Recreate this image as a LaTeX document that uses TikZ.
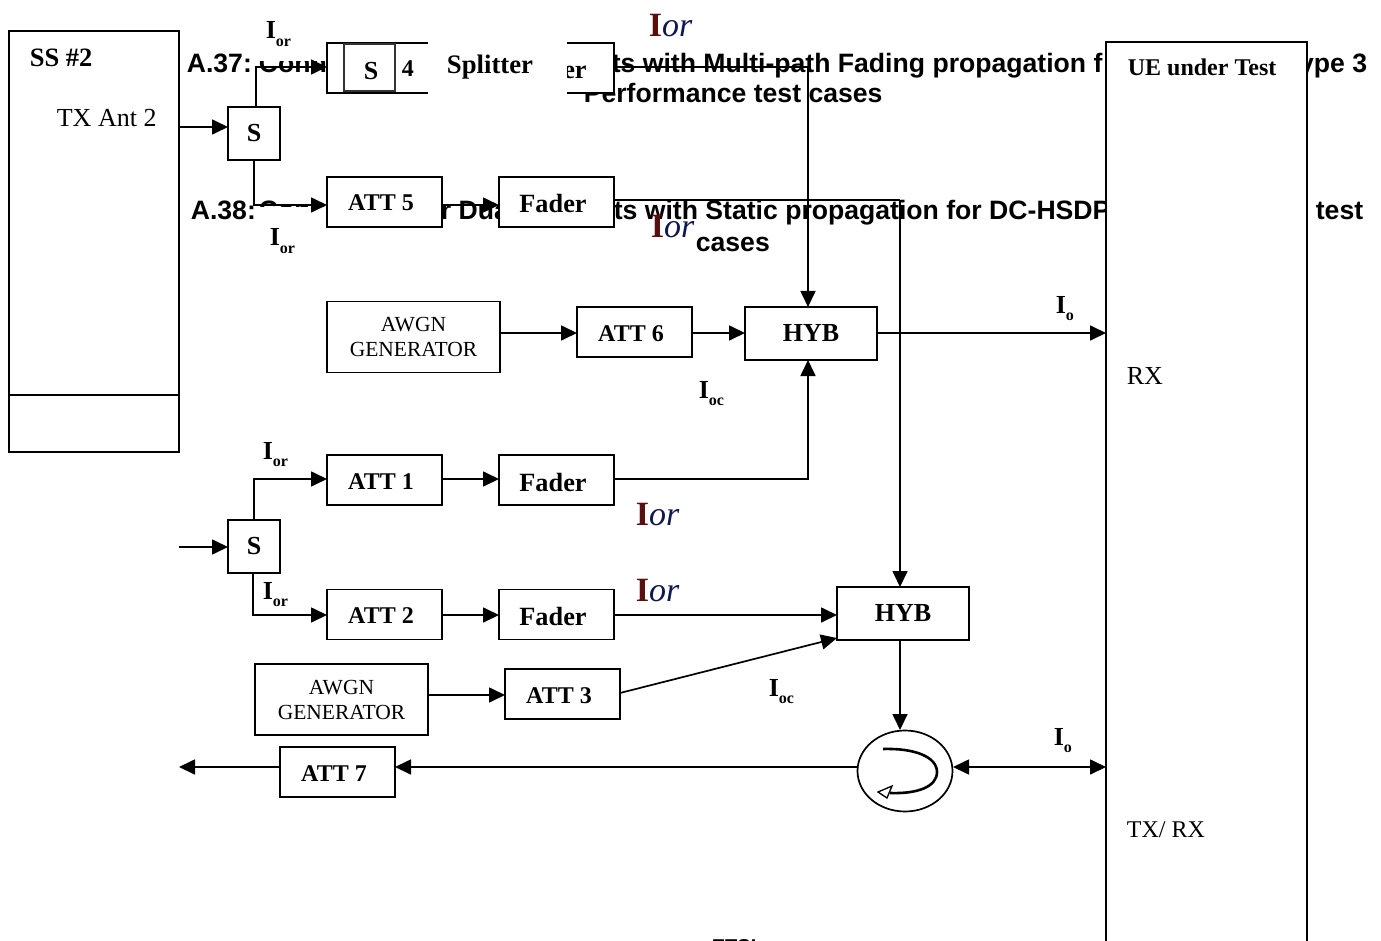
\documentclass[tikz,border=0pt]{standalone}
\usepackage{fontspec}
\setmainfont{Liberation Serif}
\newfontfamily\headfont{Liberation Sans}
\usetikzlibrary{shapes.geometric, arrows.meta, positioning, calc}

\definecolor{iorred}{RGB}{90,15,15}
\definecolor{iorblue}{RGB}{15,25,80}
\newcommand{\sublabel}[2]{\textbf{#1}\raisebox{-0.28em}{\fontsize{16}{16}\selectfont\textbf{#2}}}

\begin{document}
\begin{tikzpicture}[
        x=1pt, y=-1pt,
        node distance=57pt,
        line width=1.7pt,
        boxbase/.style={rectangle, draw, fill=white, outer sep=0pt, inner sep=0pt},
        block/.style={boxbase, minimum width=115pt, minimum height=50pt, text height=18pt, text depth=0pt, execute at end node={\hspace{7pt}}, font=\fontsize{24}{26}\selectfont\bfseries},
        fader/.style={block, text height=22pt, font=\fontsize{26.3}{28}\selectfont\bfseries},
        split/.style={boxbase, minimum width=52pt, minimum height=53pt, font=\fontsize{26}{28}\selectfont\bfseries},
        hyb/.style={boxbase, minimum width=132pt, minimum height=53pt, font=\fontsize{26}{28}\selectfont\bfseries},
        noise/.style={boxbase, minimum width=173pt, minimum height=71pt, align=center, font=\fontsize{21.5}{25}\selectfont},
        head/.style={anchor=base west, inner sep=0pt, font=\headfont\fontsize{26.6}{30}\selectfont\bfseries},
        plain/.style={anchor=base west, inner sep=0pt, font=\fontsize{26}{28}\selectfont},
        sig/.style={anchor=base west, inner sep=0pt, font=\fontsize{26}{28}\selectfont},
        ior/.style={anchor=base west, inner sep=0pt, font=\fontsize{34}{36}\selectfont},
        wire/.style={-{Triangle[length=16pt,width=15pt]}, line width=1.7pt}
    ]
    \useasboundingbox (0,0) rectangle (1381,941);
    \fill[white] (0,0) rectangle (1381,941);

    % Headings behind the blocks
    \node[head] (hAa) at (186,73) {A.37:};
    \node[head] (hAb) at (258,73) {Conn};
    \node[head] (hAc) at (611,73) {ts with Multi-path Fading propagation f};
    \node[head, anchor=base east] (hAd) at (1368,73) {ype 3};
    \node[head] (hAe) at (583,103) {Performance test cases};
    \node[head] (hBa) at (190,220) {A.38:};
    \node[head] (hBb) at (258,220) {Conn};
    \node[head] (hBc) at (440,220) {r Dua};
    \node[head] (hBd) at (613,220) {ts with Static propagation for DC-HSDP};
    \node[head, anchor=base east] (hBe) at (1364,220) {test};
    \node[head] (hBf) at (695,252) {cases};
    \node[head, font=\headfont\fontsize{20}{22}\selectfont\bfseries] (hC) at (711,953) {ETSI};
    \fill[white] (257,15) rectangle (327,61);
    \fill[white] (257,207) rectangle (327,252);

    % Outer boxes
    \node[boxbase, anchor=north west, minimum width=170pt, minimum height=421pt] (ss) at (9,31) {};
    \draw (ss.west |- 0,395) -- (ss.east |- 0,395);
    \node[boxbase, anchor=north west, minimum width=201pt, minimum height=930pt] (ue) at (1106,42) {};

    % Upper branch
    \node[split] (sA) at (254,133.5) {S};
    \node[block] (attD) at (384.5,68) {ATT 4};
    \node[fader, right=of attD] (fadD) {Fader};
    \fill[white] (428,40) rectangle (567,96);
    \node[split, draw=black!80, line width=1.3pt, minimum width=51pt, minimum height=47pt, text height=24.5pt, text depth=0pt] (sD) at (369.5,67.5) {\hspace{3pt}S};
    \node[inner sep=0pt, font=\fontsize{26.7}{28}\selectfont\bfseries] (splt) at (490,67) {Splitter};
    \node[block] (attE) at (384.5,202) {ATT 5};
    \node[fader, right=of attE] (fadE) {Fader};
    \node[noise] (awgnA) at (413.5,337) {AWGN\\GENERATOR};
    \node[block, right=77pt of awgnA, yshift=5pt] (attF) {ATT 6};
    \node[hyb] (hybA) at (811,333.5) {HYB};

    % Lower branch
    \node[block] (attA) at (384.5,480) {ATT 1};
    \node[fader, right=of attA] (fadA) {Fader};
    \node[split] (sB) at (254,546.5) {S};
    \node[block] (attB) at (384.5,614.5) {ATT 2};
    \node[fader, right=of attB] (fadB) {Fader};
    \node[hyb] (hybB) at (903,613.5) {HYB};
    \node[noise] (awgnB) at (341.5,699.5) {AWGN\\GENERATOR};
    \node[block, right=77pt of awgnB, yshift=5.5pt] (attC) {ATT 3};
    \node[block] (attG) at (337.5,772) {ATT 7};
    \node[ellipse, draw, fill=white, outer sep=0pt, inner sep=0pt, minimum width=95pt, minimum height=81pt] (circ) at (905,771) {};
    \draw[line width=2.6pt] (883,749) .. controls (915,748) and (937,757) .. (937,772) .. controls (937,787) and (917,794) .. (890,793);
    \draw[line width=1.3pt, fill=white] (878,792) -- (892,786) -- (887,798) -- cycle;

    % Free ends of the connectors
    \coordinate (inA) at (179,127);
    \coordinate (inB) at (179,547);
    \coordinate (outC) at (179,767);
    \coordinate (ueA) at (1106,333);
    \coordinate (ueB) at (1106,767);
    \coordinate (circL) at (858,767);
    \coordinate (circR) at (953,767);
    \coordinate (sAa) at (256,107);
    \coordinate (sAb) at (254,160);
    \coordinate (sBb) at (253,573);
    \coordinate (bendD) at (808,67);
    \coordinate (bendE) at (900,200);
    \coordinate (fadDo) at (614,67);
    \coordinate (fadEo) at (614,200);
    \coordinate (hybAt) at (808,307);
    \coordinate (hybAb) at (808,360);
    \coordinate (hybBt) at (900,587);
    \coordinate (hybBb) at (900,640);
    \coordinate (circT) at (900,730);
    \coordinate (hybBc) at (837,638);
    \coordinate (attCo) at (620,693);

    % Connectors
    \draw[wire] (inA) -- (sA.west |- inA);
    \draw[wire] (sAa) |- (attD.west |- 0,67);
    \draw[wire] (sAb) |- (attE.west |- 0,205);
    \draw[wire] (attE.east |- 0,205) -- (fadE.west |- 0,205);
    \draw (fadDo) -- (bendD);
    \draw[wire] (bendD) -- (hybAt);
    \draw (fadEo) -- (bendE);
    \draw[wire] (bendE) -- (hybBt);
    \draw[wire] (awgnA.east |- 0,333) -- (attF.west |- 0,333);
    \draw[wire] (attF.east |- 0,333) -- (hybA.west |- 0,333);
    \draw[wire] (hybA.east |- ueA) -- (ueA);
    \draw[wire] (inB) -- (sB.west |- inB);
    \draw[wire] (sB.north) |- (attA.west |- 0,479);
    \draw[wire] (sBb) |- (attB.west |- 0,615);
    \draw[wire] (attA.east |- 0,479) -- (fadA.west |- 0,479);
    \draw[wire] (fadA.east |- 0,479) -| (hybAb);
    \draw[wire] (attB.east |- 0,615) -- (fadB.west |- 0,615);
    \draw[wire] (fadB.east |- 0,615) -- (hybB.west |- 0,615);
    \draw[wire] (awgnB.east |- 0,695) -- (attC.west |- 0,695);
    \draw[wire] (attCo) -- (hybBc);
    \draw[wire] (hybBb) -- (circT);
    \draw[wire] (circL) -- (attG.east |- circL);
    \draw[wire] (attG.west |- circL) -- (outC);
    \draw[wire, {Triangle[length=16pt,width=15pt]}-{Triangle[length=16pt,width=15pt]}] (circR) -- (ueB);

    % Labels
    \node[plain, font=\fontsize{26.5}{28}\selectfont\bfseries] (ssName) at (29,67) {SS \#2};
    \node[plain] (ssAnt) at (56,127) {TX Ant 2};
    \node[plain, font=\fontsize{24}{26}\selectfont\bfseries] (ueName) at (1127,76) {UE under Test};
    \node[plain] (ueRx) at (1126,384) {RX};
    \node[plain, font=\fontsize{24}{26}\selectfont] (ueTx) at (1126,837) {TX/ RX};
    \foreach \n/\px/\py in {a/265/39, b/269/246, c/262/459, d/262/599} {
        \node[sig] (or\n) at (\px,\py) {\sublabel{I}{or}};
    }
    \foreach \n/\px/\py/\t in {a/698/398/oc, b/768/696/oc, c/1055/313/o, d/1053/745/o} {
        \node[sig] (oc\n) at (\px,\py) {\sublabel{I}{\t}};
    }
    \foreach \n/\px/\py in {a/648/37, b/650/238, c/635/525, d/635/601} {
        \node[ior] (img\n) at (\px,\py) {\textcolor{iorred}{\bfseries I}\textcolor{iorblue}{\itshape or}};
    }
\end{tikzpicture}
\end{document}
